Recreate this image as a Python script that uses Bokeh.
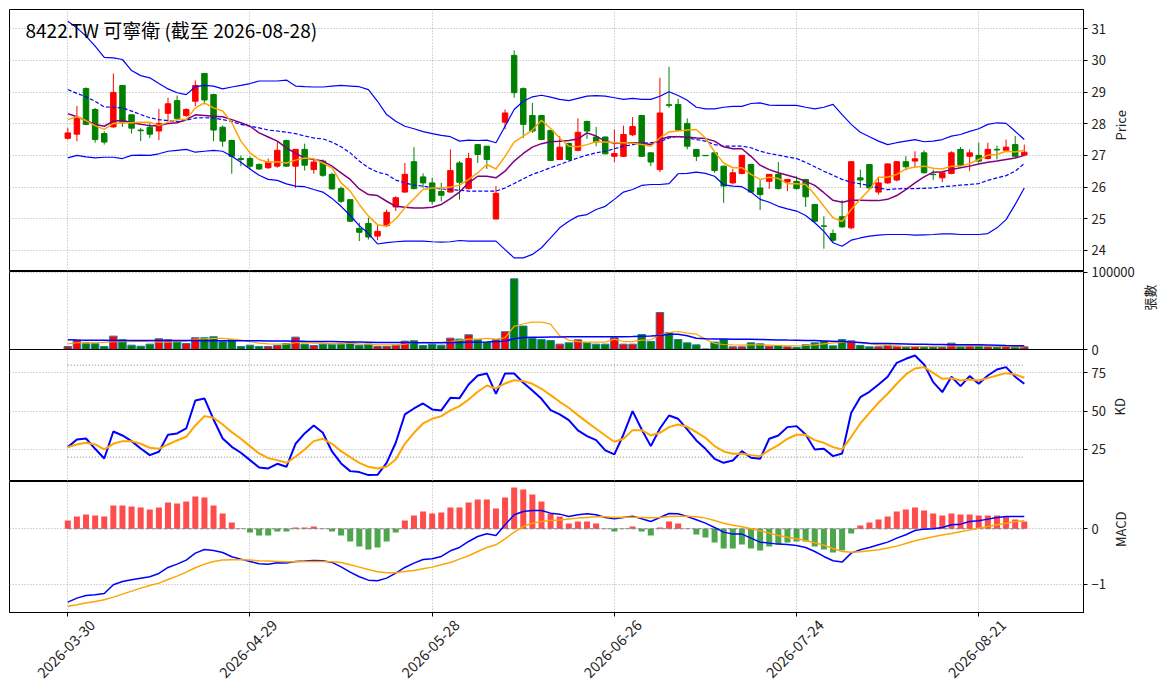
import math
from bokeh.plotting import figure
from bokeh.models import Range1d, FixedTicker, ColumnDataSource, Label, LinearAxis
from bokeh.layouts import column
from bokeh.embed import file_html
from bokeh.resources import INLINE

FONT = "Noto Sans CJK TC"
title_text = "8422.TW 可寧衛 (截至 2026-08-28)"
tick_pos = [0, 20, 40, 60, 80, 100]
tick_dates = ["2026-03-30", "2026-04-29", "2026-05-28", "2026-06-26", "2026-07-24", "2026-08-21"]

opens = [27.54, 27.67, 29.11, 28.45, 27.69, 27.90, 29.21, 28.28, 27.80, 27.89,
         27.77, 28.33, 28.73, 28.26, 28.71, 29.59, 28.92, 27.89, 27.47, 26.90,
         26.90, 26.71, 26.61, 26.66, 27.47, 26.66, 27.19, 26.55, 26.82, 26.40,
         25.95, 25.60, 24.69, 24.85, 24.45, 24.78, 25.37, 25.84, 26.80, 26.32,
         26.13, 25.86, 25.84, 26.76, 25.95, 27.34, 27.29, 24.99, 28.05, 30.16,
         29.11, 28.26, 28.26, 27.79, 26.87, 27.38, 27.16, 28.07, 27.58, 27.58,
         26.97, 26.97, 27.65, 28.26, 27.08, 26.55, 28.60, 28.61, 28.01, 27.19,
         27.00, 27.08, 26.66, 26.13, 26.43, 26.71, 25.97, 26.18, 26.40, 26.16,
         26.18, 26.24, 25.45, 24.77, 24.53, 25.06, 24.71, 26.29, 26.71, 25.84,
         26.13, 26.22, 26.80, 26.82, 27.08, 26.40, 26.29, 26.43, 27.19, 26.97,
         27.00, 26.90, 27.19, 27.16, 27.34, 27.01]
highs = [27.87, 28.56, 29.15, 28.50, 27.76, 29.59, 29.22, 28.30, 27.87, 28.03,
         28.47, 28.82, 28.89, 28.49, 29.37, 29.60, 28.95, 27.95, 27.50, 26.99,
         26.97, 26.75, 26.90, 27.42, 27.50, 27.20, 27.37, 26.92, 26.87, 26.45,
         26.02, 25.62, 24.87, 25.03, 24.81, 25.29, 25.71, 26.76, 27.26, 26.43,
         26.29, 26.13, 27.19, 26.82, 27.08, 27.36, 27.30, 26.03, 28.45, 30.32,
         29.15, 28.66, 28.28, 27.80, 27.61, 27.40, 28.17, 28.10, 27.90, 27.60,
         27.82, 27.94, 28.21, 28.28, 27.10, 29.45, 29.80, 28.79, 28.17, 27.20,
         27.01, 27.10, 26.68, 26.57, 27.01, 26.74, 26.24, 26.41, 26.79, 26.25,
         26.34, 26.25, 25.46, 25.08, 24.66, 25.58, 26.82, 26.55, 26.72, 26.29,
         26.74, 26.82, 26.98, 27.13, 27.16, 26.55, 26.47, 27.13, 27.26, 27.19,
         27.40, 27.40, 27.31, 27.50, 27.61, 27.34]
lows = [27.50, 27.45, 27.95, 27.40, 27.34, 27.87, 27.90, 27.69, 27.45, 27.55,
        27.48, 28.08, 28.10, 28.22, 28.56, 28.61, 27.45, 27.27, 26.42, 26.66,
        26.57, 26.54, 26.57, 26.61, 26.64, 25.97, 26.52, 26.42, 26.32, 25.92,
        25.50, 24.89, 24.29, 24.34, 24.32, 24.74, 25.24, 25.82, 25.92, 25.97,
        25.45, 25.55, 25.82, 25.60, 25.92, 26.76, 26.57, 24.97, 27.82, 28.82,
        27.55, 27.71, 27.48, 26.82, 26.85, 26.85, 27.13, 27.52, 27.29, 27.03,
        26.79, 26.95, 27.61, 26.95, 26.66, 26.47, 28.50, 27.77, 27.19, 26.82,
        26.98, 26.45, 25.50, 26.08, 26.40, 25.82, 25.27, 25.94, 25.92, 25.87,
        25.92, 25.37, 24.87, 24.05, 24.24, 24.71, 24.66, 25.97, 25.95, 25.76,
        26.10, 26.18, 26.53, 26.61, 26.43, 26.22, 26.15, 26.40, 26.66, 26.50,
        26.76, 26.87, 26.87, 27.10, 26.95, 26.97]
closes = [27.71, 28.19, 27.98, 27.50, 27.42, 28.99, 28.03, 27.86, 27.78, 27.67,
          28.01, 28.63, 28.17, 28.45, 29.21, 28.75, 27.80, 27.45, 26.97, 26.87,
          26.66, 26.57, 26.79, 27.16, 26.66, 27.19, 26.69, 26.79, 26.37, 25.94,
          25.55, 24.92, 24.57, 24.42, 24.60, 25.20, 25.66, 26.40, 25.95, 26.13,
          25.55, 25.74, 26.52, 26.15, 26.90, 27.03, 26.87, 25.80, 28.34, 28.98,
          27.98, 27.77, 27.50, 26.84, 27.26, 26.87, 27.73, 27.77, 27.42, 27.05,
          27.06, 27.66, 27.91, 26.97, 26.79, 28.34, 28.58, 27.80, 27.29, 26.97,
          26.99, 26.52, 26.03, 26.45, 27.00, 25.84, 25.76, 26.40, 25.95, 26.24,
          25.95, 25.69, 24.92, 24.76, 24.32, 24.74, 26.80, 26.22, 25.97, 26.13,
          26.73, 26.80, 26.64, 26.89, 26.45, 26.39, 26.45, 27.08, 26.69, 27.08,
          26.82, 27.19, 27.17, 27.26, 26.97, 27.10]
volumes = [3900, 12100, 7400, 7400, 3900, 17300, 12600, 5600, 4300, 6900,
           13900, 12600, 10000, 7800, 15200, 15200, 16500, 10000, 12600, 3900,
           5600, 3900, 3900, 5200, 7800, 16000, 6900, 5200, 6900, 6900,
           7800, 9100, 5600, 6900, 3900, 3900, 5600, 10800, 11300, 5200,
           6900, 5600, 14700, 13400, 19000, 12600, 9100, 12600, 23000, 91400,
           30300, 14300, 12800, 11600, 6900, 8600, 12500, 8600, 6900, 6900,
           15100, 6900, 6900, 19400, 10300, 47800, 22000, 12900, 8600, 6000,
           800, 9500, 12900, 3400, 3400, 8600, 7300, 4300, 5200, 3400,
           2600, 6000, 8600, 10800, 4700, 12900, 11200, 5200, 3400, 3400,
           5600, 4300, 2600, 3400, 2600, 2600, 2600, 8200, 3400, 4300,
           4300, 3400, 2600, 3400, 3400, 3400]
vol_ma5 = [7400, 8700, 9100, 8700, 9100, 10000, 10000, 10000, 10800, 10000,
           9500, 9500, 10000, 10800, 13400, 13900, 14300, 14300, 13400, 12100,
           10000, 8200, 7400, 6900, 6900, 8700, 9100, 8200, 8200, 7400,
           7400, 8200, 7400, 6900, 6100, 6100, 6100, 6900, 8700, 9100,
           9100, 9100, 10000, 11700, 13400, 13400, 14300, 13400, 15200, 29900,
           33300, 35500, 35500, 32800, 17700, 12100, 10300, 9500, 9500, 9500,
           13400, 10300, 10300, 12100, 12500, 18500, 22000, 23300, 21100, 19800,
           13400, 7800, 6500, 6000, 5600, 6000, 6000, 5600, 5200, 4700,
           4700, 5200, 6000, 7300, 8600, 9100, 10300, 8600, 7300, 6000,
           5200, 4300, 3900, 3900, 3900, 3900, 3900, 4700, 4700, 4700,
           4700, 4300, 3900, 3900, 3400, 3400]
vol_ma20 = [12600, 12300, 12100, 12000, 11900, 11800, 11700, 11700, 11700, 11600,
            11600, 11600, 11500, 11500, 11500, 11400, 11400, 11400, 11300, 11300,
            11300, 11200, 11100, 11000, 10900, 10800, 10600, 10500, 10300, 10200,
            10000, 9800, 9600, 9400, 9200, 9100, 9000, 8900, 8800, 8700,
            8700, 8800, 9000, 9200, 9400, 9500, 9800, 10300, 10800, 13900,
            15600, 15800, 16000, 16200, 16300, 16400, 16400, 16400, 16400, 16500,
            16600, 16600, 16700, 17200, 17400, 18100, 19800, 19800, 17700, 14500,
            13800, 13600, 13500, 13400, 13400, 13300, 13000, 12700, 12400, 12200,
            12100, 11800, 11500, 11100, 10700, 10300, 9800, 9000, 8200, 7900,
            7800, 7500, 7200, 6900, 6700, 6500, 6400, 6300, 6200, 6100,
            6000, 5800, 5500, 5200, 5000, 4700]
ma5 = [28.13, 28.22, 28.10, 27.94, 27.82, 28.01, 28.03, 28.03, 28.05, 28.05,
       27.94, 28.05, 28.13, 28.13, 28.50, 28.66, 28.50, 28.40, 28.03, 27.45,
       27.08, 26.87, 26.78, 26.80, 26.76, 26.85, 26.92, 26.89, 26.76, 26.61,
       26.13, 25.87, 25.45, 25.08, 24.81, 24.76, 24.99, 25.34, 25.63, 25.92,
       25.97, 25.97, 26.00, 26.06, 26.24, 26.45, 26.71, 26.57, 26.97, 27.42,
       27.61, 27.80, 28.11, 27.85, 27.55, 27.29, 27.27, 27.34, 27.43, 27.42,
       27.40, 27.40, 27.38, 27.34, 27.29, 27.55, 27.74, 27.77, 27.80, 27.82,
       27.55, 27.11, 26.76, 26.61, 26.61, 26.40, 26.24, 26.31, 26.27, 26.10,
       26.10, 26.08, 25.76, 25.39, 25.03, 24.91, 25.29, 25.61, 25.92, 26.31,
       26.31, 26.40, 26.57, 26.63, 26.66, 26.59, 26.57, 26.66, 26.66, 26.74,
       26.87, 27.01, 27.03, 27.13, 27.11, 27.16]
ma10 = [28.32, 28.22, 28.10, 27.98, 27.92, 28.08, 28.11, 28.03, 27.98, 27.94,
        27.94, 28.01, 28.03, 28.13, 28.28, 28.26, 28.24, 28.22, 28.13, 28.03,
        27.92, 27.71, 27.58, 27.45, 27.24, 27.06, 26.92, 26.87, 26.82, 26.66,
        26.45, 26.24, 25.94, 25.76, 25.73, 25.55, 25.39, 25.36, 25.34, 25.34,
        25.36, 25.45, 25.63, 25.84, 26.13, 26.34, 26.34, 26.29, 26.50, 26.82,
        27.06, 27.26, 27.37, 27.43, 27.45, 27.47, 27.52, 27.71, 27.61, 27.45,
        27.38, 27.40, 27.40, 27.38, 27.34, 27.50, 27.59, 27.59, 27.58, 27.55,
        27.53, 27.45, 27.27, 27.21, 27.21, 26.97, 26.69, 26.55, 26.45, 26.37,
        26.29, 26.18, 26.05, 25.82, 25.58, 25.52, 25.58, 25.58, 25.57, 25.57,
        25.61, 25.73, 25.92, 26.13, 26.32, 26.47, 26.48, 26.55, 26.61, 26.66,
        26.73, 26.78, 26.82, 26.87, 26.92, 27.00]
ma20 = [29.08, 28.96, 28.85, 28.71, 28.53, 28.52, 28.50, 28.40, 28.29, 28.19,
        28.13, 28.10, 28.06, 28.11, 28.18, 28.19, 28.18, 28.13, 28.07, 27.98,
        27.92, 27.87, 27.80, 27.77, 27.73, 27.69, 27.61, 27.55, 27.52, 27.42,
        27.27, 27.08, 26.82, 26.61, 26.47, 26.40, 26.22, 26.13, 26.06, 26.03,
        25.97, 25.94, 25.92, 25.90, 25.87, 25.87, 25.87, 25.87, 25.97, 26.11,
        26.26, 26.40, 26.50, 26.61, 26.71, 26.82, 26.92, 27.01, 27.08, 27.13,
        27.21, 27.29, 27.34, 27.38, 27.40, 27.43, 27.55, 27.61, 27.55, 27.50,
        27.45, 27.34, 27.29, 27.29, 27.29, 27.24, 27.13, 27.06, 27.01, 26.95,
        26.90, 26.78, 26.64, 26.50, 26.37, 26.24, 26.15, 26.10, 26.05, 25.97,
        25.92, 25.94, 25.95, 25.95, 25.96, 25.97, 26.01, 26.03, 26.06, 26.08,
        26.11, 26.21, 26.29, 26.36, 26.50, 26.74]
bb_upper = [31.24, 31.03, 30.77, 30.45, 30.10, 30.08, 30.03, 29.68, 29.52, 29.45,
            29.27, 29.10, 28.98, 28.92, 29.17, 29.21, 29.19, 29.10, 29.16, 29.21,
            29.27, 29.35, 29.35, 29.35, 29.38, 29.19, 29.17, 29.16, 29.16, 29.19,
            29.21, 29.19, 29.17, 29.08, 28.71, 28.29, 28.08, 27.92, 27.84, 27.75,
            27.69, 27.63, 27.59, 27.45, 27.48, 27.47, 27.48, 27.40, 27.92, 28.45,
            28.71, 28.85, 28.90, 28.84, 28.77, 28.73, 28.80, 28.87, 28.89, 28.87,
            28.82, 28.77, 28.80, 28.77, 28.77, 28.87, 29.01, 28.89, 28.74, 28.52,
            28.47, 28.47, 28.52, 28.55, 28.55, 28.64, 28.66, 28.59, 28.58, 28.58,
            28.58, 28.52, 28.47, 28.52, 28.61, 28.29, 27.98, 27.73, 27.59, 27.45,
            27.34, 27.40, 27.45, 27.50, 27.43, 27.45, 27.50, 27.61, 27.66, 27.76,
            27.84, 27.98, 28.03, 28.01, 27.76, 27.50]
bb_lower = [26.92, 27.00, 26.95, 26.92, 26.94, 26.94, 26.90, 27.00, 27.01, 27.00,
            27.05, 27.13, 27.16, 27.19, 27.10, 27.13, 27.16, 27.13, 26.97, 26.78,
            26.57, 26.37, 26.24, 26.21, 26.10, 26.03, 26.01, 25.92, 25.84, 25.64,
            25.39, 25.10, 24.78, 24.53, 24.20, 24.24, 24.27, 24.29, 24.29, 24.29,
            24.27, 24.26, 24.27, 24.31, 24.29, 24.29, 24.29, 24.29, 24.02, 23.76,
            23.76, 23.87, 24.08, 24.39, 24.71, 24.92, 25.08, 25.13, 25.29, 25.39,
            25.61, 25.84, 25.92, 26.05, 26.08, 26.08, 26.11, 26.42, 26.43, 26.47,
            26.43, 26.34, 26.07, 26.03, 26.01, 25.84, 25.61, 25.52, 25.39, 25.31,
            25.24, 25.10, 24.87, 24.60, 24.24, 24.13, 24.32, 24.39, 24.45, 24.48,
            24.50, 24.50, 24.50, 24.48, 24.49, 24.50, 24.52, 24.52, 24.50, 24.50,
            24.50, 24.53, 24.71, 24.97, 25.45, 25.97]
k_vals = [26.52, 31.52, 32.17, 25.43, 19.13, 36.74, 34.13, 30.43, 25.65, 21.30,
          23.48, 34.57, 35.44, 38.70, 56.96, 58.26, 44.57, 32.17, 26.74, 22.83,
          18.04, 13.26, 12.61, 15.65, 13.69, 28.70, 35.44, 40.65, 35.87, 23.70,
          15.87, 10.87, 10.22, 8.26, 8.48, 16.30, 29.35, 47.83, 51.74, 55.00,
          51.09, 50.44, 58.70, 58.48, 67.39, 73.26, 74.57, 61.31, 74.57, 74.57,
          68.48, 63.48, 58.05, 50.65, 47.83, 44.13, 37.39, 33.70, 31.09, 24.35,
          21.74, 34.78, 50.00, 38.04, 27.17, 38.70, 47.17, 45.00, 38.04, 30.87,
          25.43, 18.91, 16.30, 17.83, 23.91, 19.56, 18.91, 31.96, 34.13, 39.57,
          40.22, 34.78, 25.00, 25.43, 20.65, 22.39, 48.91, 59.13, 62.61, 67.39,
          72.39, 81.52, 84.13, 86.31, 80.44, 68.92, 62.39, 72.39, 66.31, 72.83,
          67.83, 73.26, 77.18, 78.70, 72.39, 67.83]
d_vals = [26.52, 28.26, 29.35, 28.26, 25.00, 28.70, 30.43, 30.43, 28.70, 26.09,
          25.43, 28.26, 30.87, 33.26, 40.65, 46.74, 45.65, 41.30, 36.30, 31.96,
          27.17, 22.39, 19.35, 18.04, 16.30, 20.22, 25.00, 30.43, 31.96, 28.70,
          23.91, 20.00, 16.30, 13.69, 12.61, 13.69, 18.48, 28.70, 35.87, 41.96,
          45.00, 46.74, 50.44, 53.26, 57.61, 62.61, 66.74, 64.78, 68.05, 70.22,
          69.57, 67.83, 64.57, 60.44, 56.09, 52.18, 47.39, 42.83, 38.48, 34.13,
          30.00, 31.96, 37.61, 37.61, 34.13, 35.87, 39.57, 41.30, 39.78, 36.30,
          32.61, 27.17, 23.70, 22.17, 22.17, 21.30, 20.65, 24.57, 27.83, 31.96,
          34.57, 34.57, 31.09, 29.35, 26.52, 25.00, 33.26, 41.96, 48.91, 55.44,
          61.31, 67.83, 73.92, 77.83, 78.70, 75.00, 71.09, 71.52, 70.00, 70.65,
          70.00, 71.52, 73.26, 74.78, 73.92, 71.74]
macd_dif = [-1.325, -1.253, -1.205, -1.193, -1.169, -1.012, -0.952, -0.922, -0.892, -0.867,
            -0.807, -0.699, -0.639, -0.566, -0.440, -0.373, -0.392, -0.428, -0.506, -0.548,
            -0.590, -0.633, -0.639, -0.614, -0.620, -0.590, -0.584, -0.572, -0.578, -0.608,
            -0.687, -0.783, -0.867, -0.928, -0.940, -0.892, -0.801, -0.699, -0.620, -0.554,
            -0.542, -0.500, -0.398, -0.337, -0.229, -0.139, -0.090, -0.120, 0.072, 0.253,
            0.313, 0.331, 0.331, 0.283, 0.265, 0.223, 0.253, 0.271, 0.253, 0.205,
            0.181, 0.205, 0.229, 0.181, 0.133, 0.205, 0.277, 0.271, 0.223, 0.163,
            0.102, 0.024, -0.060, -0.096, -0.096, -0.169, -0.241, -0.259, -0.277, -0.283,
            -0.301, -0.337, -0.410, -0.500, -0.578, -0.602, -0.440, -0.380, -0.337, -0.289,
            -0.241, -0.169, -0.108, -0.030, -0.006, 0.000, 0.024, 0.072, 0.084, 0.133,
            0.145, 0.175, 0.205, 0.223, 0.223, 0.223]
macd_signal = [-1.398, -1.373, -1.343, -1.313, -1.283, -1.235, -1.181, -1.127, -1.072, -1.024,
               -0.982, -0.916, -0.855, -0.783, -0.705, -0.639, -0.590, -0.566, -0.560, -0.560,
               -0.566, -0.578, -0.584, -0.590, -0.596, -0.596, -0.590, -0.590, -0.590, -0.596,
               -0.608, -0.651, -0.693, -0.735, -0.777, -0.795, -0.795, -0.771, -0.753, -0.723,
               -0.693, -0.651, -0.608, -0.548, -0.488, -0.410, -0.337, -0.289, -0.181, -0.060,
               0.042, 0.102, 0.133, 0.151, 0.157, 0.175, 0.193, 0.205, 0.217, 0.217,
               0.205, 0.211, 0.211, 0.205, 0.199, 0.205, 0.223, 0.229, 0.229, 0.217,
               0.193, 0.151, 0.102, 0.066, 0.036, 0.000, -0.036, -0.078, -0.120, -0.151,
               -0.181, -0.211, -0.253, -0.295, -0.355, -0.410, -0.422, -0.416, -0.398, -0.380,
               -0.349, -0.313, -0.265, -0.217, -0.181, -0.145, -0.114, -0.084, -0.054, -0.024,
               0.012, 0.042, 0.072, 0.102, 0.133, 0.145]
macd_hist = [0.151, 0.223, 0.259, 0.241, 0.223, 0.422, 0.422, 0.404, 0.386, 0.349,
             0.386, 0.476, 0.458, 0.494, 0.584, 0.566, 0.422, 0.277, 0.114, -0.005,
             -0.066, -0.120, -0.120, -0.048, -0.048, 0.024, 0.024, 0.042, 0.005, -0.048,
             -0.120, -0.229, -0.319, -0.373, -0.337, -0.229, -0.066, 0.151, 0.241, 0.313,
             0.277, 0.295, 0.386, 0.386, 0.476, 0.530, 0.530, 0.367, 0.566, 0.747,
             0.711, 0.620, 0.494, 0.277, 0.223, 0.096, 0.133, 0.133, 0.096, 0.005,
             -0.048, -0.005, 0.042, -0.048, -0.120, 0.024, 0.133, 0.096, 0.005, -0.102,
             -0.157, -0.247, -0.355, -0.355, -0.283, -0.355, -0.392, -0.319, -0.283, -0.247,
             -0.229, -0.229, -0.319, -0.373, -0.428, -0.392, -0.084, 0.060, 0.114, 0.169,
             0.223, 0.313, 0.349, 0.386, 0.331, 0.277, 0.241, 0.277, 0.259, 0.259,
             0.241, 0.241, 0.241, 0.223, 0.169, 0.133]

n = len(closes)
idx = list(range(n))
UP, DOWN = "#ff0000", "#008000"
ccolor = [UP if c >= o else DOWN for o, c in zip(opens, closes)]
src = ColumnDataSource(dict(
    x=idx, o=opens, h=highs, l=lows, c=closes,
    top=[max(o, c) for o, c in zip(opens, closes)],
    bot=[min(o, c) for o, c in zip(opens, closes)],
    color=ccolor, vol=volumes, vma5=vol_ma5, vma20=vol_ma20,
    ma5=ma5, ma10=ma10, ma20=ma20, bbu=bb_upper, bbl=bb_lower,
    k=k_vals, d=d_vals, dif=macd_dif, sig=macd_signal, hist=macd_hist,
    hcolor=[UP if v >= 0 else DOWN for v in macd_hist],
))

FW = 1074
xr = Range1d(-6.4, 111.5)
TXT = "#222222"
PAD = 8  # overlap band so that tick labels on panel borders are not clipped


def make_fig(fh, y0, y1, yticks, label, label_standoff, top_border=0,
             bottom_border=0, bottom_axis=False):
    p = figure(frame_width=FW, frame_height=fh, x_range=xr, y_range=Range1d(y0, y1),
               y_axis_location="right", x_axis_location="below" if bottom_axis else None,
               toolbar_location=None, output_backend="svg",
               min_border_left=9, min_border_right=20, min_border_top=top_border,
               min_border_bottom=bottom_border)
    p.outline_line_color = "black"
    p.outline_line_width = 1
    p.outline_line_alpha = 1.0
    p.border_fill_alpha = 0.0
    p.background_fill_color = "white"
    p.xgrid.ticker = FixedTicker(ticks=tick_pos)
    p.yaxis.ticker = FixedTicker(ticks=yticks)
    for g in list(p.xgrid) + list(p.ygrid):
        g.grid_line_color = "#b0b0b0"
        g.grid_line_dash = "1 2"
        g.grid_line_width = 1
    ax = p.yaxis[0]
    ax.major_tick_in = 0
    ax.major_tick_out = 4
    ax.minor_tick_in = 0
    ax.minor_tick_out = 0
    ax.axis_line_color = "black"
    ax.major_tick_line_color = "black"
    ax.major_label_text_font = FONT
    ax.major_label_text_font_size = "13px"
    ax.major_label_text_color = TXT
    ax.major_label_standoff = 4
    ax.axis_label = label
    ax.axis_label_text_font = FONT
    ax.axis_label_text_font_size = "13px"
    ax.axis_label_text_font_style = "normal"
    ax.axis_label_text_color = TXT
    ax.axis_label_standoff = label_standoff
    try:
        ax.axis_label_orientation = math.pi / 2
    except Exception:
        pass
    return p


# ---- price panel
H1 = 262
p1 = make_fig(H1, 23.33, 31.61, [24, 25, 26, 27, 28, 29, 30, 31], "Price", 12, top_border=9)
p1.segment(x0="x", y0="l", x1="x", y1="h", line_color="color", line_width=1, source=src)
p1.vbar(x="x", top="top", bottom="bot", width=0.6, fill_color="color",
        line_color="color", line_width=1, source=src)
p1.line("x", "bbu", source=src, line_color="#0000ff", line_width=1.2)
p1.line("x", "bbl", source=src, line_color="#0000ff", line_width=1.2)
p1.line("x", "ma20", source=src, line_color="#0000ff", line_width=1.2, line_dash="4 2")
p1.line("x", "ma10", source=src, line_color="#800080", line_width=1.5)
p1.line("x", "ma5", source=src, line_color="#ffa500", line_width=1.5)
p1.add_layout(Label(x=16, y=H1 - 6, x_units="screen", y_units="screen", text=title_text,
                    text_align="left", text_baseline="top", text_font=FONT,
                    text_font_size="19px", text_color="black"))

# ---- volume panel
H2 = 78
p2 = make_fig(H2, 0, 100900, [0, 100000], "張數", 12, top_border=PAD, bottom_border=PAD)
p2.margin = (-PAD, 0, 0, 0)
p2.yaxis.major_label_overrides = {0: "0", 100000: "100000"}
p2.vbar(x="x", top="vol", bottom=0, width=0.82, fill_color="color",
        line_color="#1f77b4", line_width=1, source=src)
p2.line("x", "vma5", source=src, line_color="#ffa500", line_width=1.2)
p2.line("x", "vma20", source=src, line_color="#0000ff", line_width=1.5)

# ---- KD panel
H3 = 132
p3 = make_fig(H3, 4.1, 90.2, [25, 50, 75], "KD", 11)
p3.margin = (-PAD, 0, 0, 0)
p3.line([idx[0], idx[-1]], [80, 80], line_color="#808080", line_width=1, line_dash="1 2")
p3.line([idx[0], idx[-1]], [20, 20], line_color="#808080", line_width=1, line_dash="1 2")
p3.line("x", "k", source=src, line_color="#0000ff", line_width=2)
p3.line("x", "d", source=src, line_color="#ffa500", line_width=2)

# ---- MACD panel
H4 = 131
p4 = make_fig(H4, -1.513, 0.855, [-1, 0], "MACD", 12, bottom_axis=True)
p4.vbar(x="x", top="hist", bottom=0, width=0.66, fill_color="hcolor", fill_alpha=0.7,
        line_color=None, source=src)
p4.line([idx[0], idx[-1]], [0, 0], line_color="#808080", line_width=1, line_dash="4 2")
p4.line("x", "dif", source=src, line_color="#0000ff", line_width=1.5)
p4.line("x", "sig", source=src, line_color="#ffa500", line_width=1.5)

# tick marks (no labels) on the bottom axis
xa = p4.xaxis[0]
xa.ticker = FixedTicker(ticks=tick_pos)
xa.major_label_overrides = {t: "" for t in tick_pos}
xa.major_label_text_font_size = "1px"
xa.major_label_standoff = 0
xa.major_tick_in = 0
xa.major_tick_out = 4
xa.minor_tick_in = 0
xa.minor_tick_out = 0
xa.axis_line_color = "black"

# rotated date labels, centred under their ticks
SHIFT = 2.7
lab_pos = [t + SHIFT for t in tick_pos]
xl = LinearAxis(ticker=FixedTicker(ticks=lab_pos),
                major_label_overrides={lp: d for lp, d in zip(lab_pos, tick_dates)})
xl.major_label_orientation = math.pi / 4
xl.major_label_text_font = FONT
xl.major_label_text_font_size = "14.5px"
xl.major_label_text_color = TXT
xl.major_tick_in = 0
xl.major_tick_out = 0
xl.minor_tick_in = 0
xl.minor_tick_out = 0
xl.axis_line_color = None
xl.major_label_standoff = 6
p4.add_layout(xl, "below")

layout = column(p1, p2, p3, p4, spacing=0)
open("out.html", "w").write(file_html(layout, INLINE))
